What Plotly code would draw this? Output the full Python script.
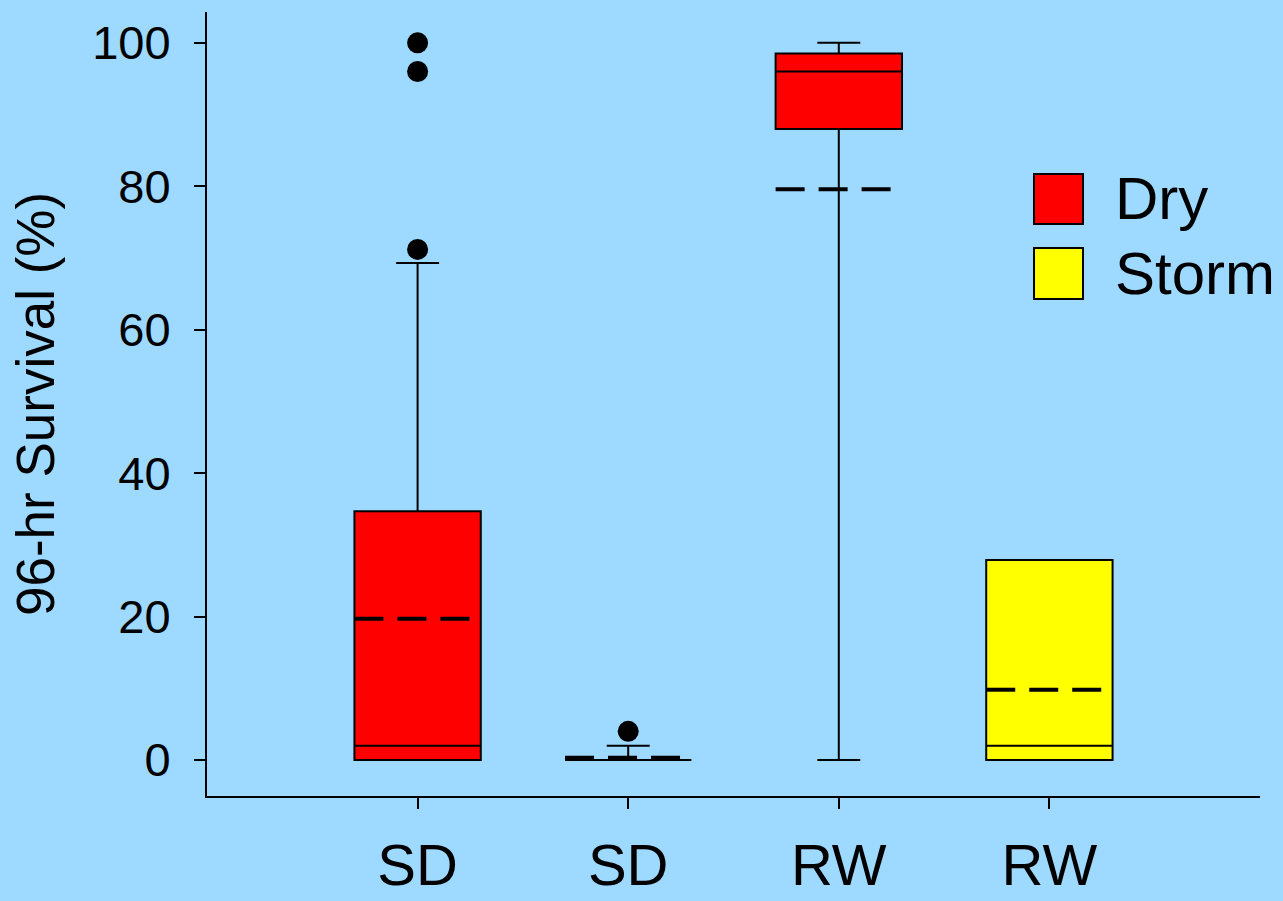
import plotly.graph_objects as go

# ---- data ----
tick_labels = ["SD", "SD", "RW", "RW"]
positions = [1, 2, 3, 4]
groups = ["Dry", "Storm"]

dry_pos = [1, 3]
dry_q1 = [0, 88.0]
dry_median = [2.0, 96.0]
dry_q3 = [34.7, 98.5]
dry_lower = [0, 0]
dry_upper = [69.3, 100]
dry_mean = [19.7, 79.6]
dry_outliers_x = [1, 1, 1]
dry_outliers_y = [71.2, 96.0, 100.0]

storm_pos = [2, 4]
storm_q1 = [0, 0]
storm_median = [0, 2.0]
storm_q3 = [0, 27.9]
storm_lower = [0, 0]
storm_upper = [2.0, 27.9]
storm_mean = [0.3, 9.8]
storm_outliers_x = [2]
storm_outliers_y = [4.0]

# ---- styles ----
BG = "#9ED9FF"
RED = "#FF0000"
YELLOW = "#FFFF00"
BOX_W = 0.6
FONT = "Liberation Sans, Arial, sans-serif"

fig = go.Figure()

for pos, q1, med, q3, lo, up, col, name in [
    (dry_pos, dry_q1, dry_median, dry_q3, dry_lower, dry_upper, RED, groups[0]),
    (storm_pos, storm_q1, storm_median, storm_q3, storm_lower, storm_upper, YELLOW, groups[1]),
]:
    fig.add_trace(go.Box(
        x=pos, q1=q1, median=med, q3=q3, lowerfence=lo, upperfence=up,
        orientation="v", name=name, width=BOX_W, whiskerwidth=0.34,
        fillcolor=col, line=dict(color="black", width=2),
        boxpoints=False, showlegend=False, hoverinfo="skip",
    ))

# mean lines (dashed)
for pos, means in [(dry_pos, dry_mean), (storm_pos, storm_mean)]:
    for p, m in zip(pos, means):
        fig.add_trace(go.Scatter(
            x=[p - BOX_W / 2, p + BOX_W / 2], y=[m, m], mode="lines",
            line=dict(color="black", width=4, dash="29px,14px"),
            showlegend=False, hoverinfo="skip",
        ))

# outliers
fig.add_trace(go.Scatter(
    x=dry_outliers_x + storm_outliers_x, y=dry_outliers_y + storm_outliers_y,
    mode="markers", marker=dict(color="black", size=21),
    showlegend=False, hoverinfo="skip", cliponaxis=False,
))

# manual legend (large swatches)
legend_items = [(groups[0], RED, 0.7296, 0.7934), (groups[1], YELLOW, 0.6339, 0.699)]
for label, col, y0, y1 in legend_items:
    fig.add_shape(type="rect", xref="paper", yref="paper",
                  x0=0.7854, x1=0.8319, y0=y0, y1=y1,
                  fillcolor=col, line=dict(color="black", width=2))
    fig.add_annotation(xref="paper", yref="paper", x=0.8604, y=(y0 + y1) / 2,
                       text=label, showarrow=False, xanchor="left", yanchor="middle",
                       font=dict(size=60, color="black", family=FONT))

fig.update_layout(
    width=1283, height=901,
    margin=dict(l=207, r=23, t=12, b=105, autoexpand=False),
    paper_bgcolor=BG, plot_bgcolor=BG,
    boxmode="overlay",
    font=dict(family=FONT, color="black"),
)
fig.update_xaxes(
    range=[0, 5], tickmode="array", tickvals=positions, ticktext=tick_labels,
    showgrid=False, zeroline=False, showline=True, linecolor="black", linewidth=2,
    ticks="outside", ticklen=11, tickwidth=2, tickcolor="black", automargin=False,
    tickfont=dict(size=58, family=FONT), ticklabelstandoff=6,
)
fig.update_yaxes(
    range=[-5.02, 104.3], tickvals=[0, 20, 40, 60, 80, 100],
    showgrid=False, zeroline=False, showline=True, linecolor="black", linewidth=2,
    ticks="outside", ticklen=11, tickwidth=2, tickcolor="black", automargin=False,
    tickfont=dict(size=47, family=FONT), ticklabelstandoff=14,
    title=dict(text="96-hr Survival (%)", font=dict(size=53, family=FONT), standoff=21),
)

fig.write_html(
    "out.html",
    config={"displayModeBar": False},
    post_script="document.body.style.margin='0';document.body.style.padding='0';"
                "document.body.style.background='" + BG + "';"
                "document.body.style.overflow='hidden';",
)
